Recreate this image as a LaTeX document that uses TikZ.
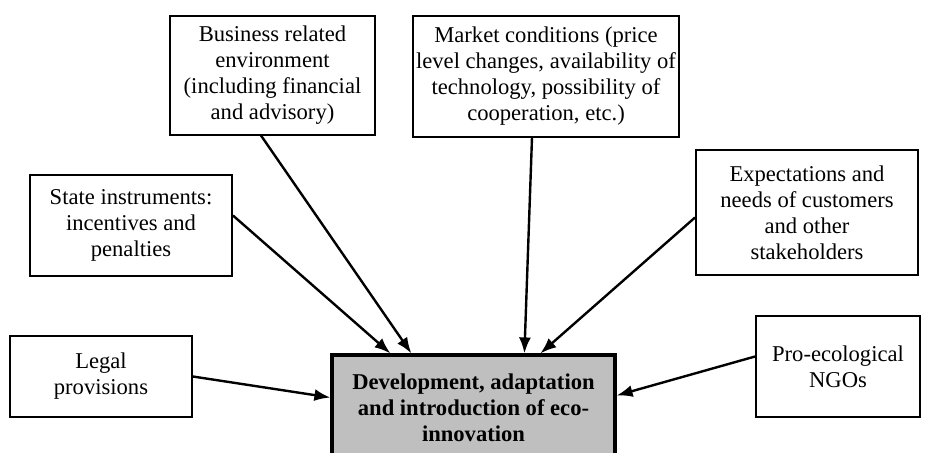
\documentclass[tikz,border=0pt]{standalone}
\usepackage{fontspec}
\setmainfont{Liberation Serif}
\usetikzlibrary{arrows.meta}

\begin{document}
\begin{tikzpicture}[x=0.5pt,y=-0.5pt,
  factor/.style={draw,line width=1pt,align=center,inner sep=0pt,
    font=\fontsize{11.3}{13}\selectfont},
  target/.style={factor,fill=black!25,line width=1.6pt,
    font=\fontsize{11.3}{13}\selectfont\bfseries},
  push/.style={line width=1.2pt,-{Latex[length=8pt,width=6pt]}}]
\useasboundingbox (0,0) rectangle (930,452);
\path (272.5, 75)   node[factor,minimum width=102.5pt,minimum height=59.5pt] (business) {Business related\\environment\\(including financial\\and advisory)};
\path (546, 76)     node[factor,minimum width=133pt,minimum height=60.5pt] (market) {Market conditions (price\\level changes, availability of\\technology, possibility of\\cooperation, etc.)};
\path (131, 225.5)  node[factor,minimum width=101pt,minimum height=50.5pt] (state) {State instruments:\\incentives and\\penalties};
\path (807, 212.5)  node[factor,minimum width=111pt,minimum height=62.5pt] (expect) {Expectations and\\needs of customers\\and other\\stakeholders};
\path (101, 376.5)  node[factor,minimum width=91pt,minimum height=40.5pt] (legal) {Legal\\provisions};
\path (838, 366.5)  node[factor,minimum width=82pt,minimum height=50.5pt] (ngo) {Pro-ecological\\NGOs};
\path (473.5, 407.5) node[target,minimum width=141.5pt,minimum height=52.5pt] (dev) {Development, adaptation\\and introduction of eco-\\innovation};
\draw [push] ([shift={(92,0)}]business.south west) -- ([shift={(81,0)}]dev.north west);
\draw [push] ([shift={(0,-10)}]state.east) -- ([shift={(60,0)}]dev.north west);
\draw [push] ([shift={(120,0)}]market.south west) -- ([shift={(194,0)}]dev.north west);
\draw [push] ([shift={(0,5)}]expect.west) -- ([shift={(210,0)}]dev.north west);
\draw [push] (legal.east) -- ([shift={(0,-10)}]dev.west);
\draw [push] ([shift={(0,-10)}]ngo.west) -- ([shift={(0,-12)}]dev.east);
\end{tikzpicture}
\end{document}
